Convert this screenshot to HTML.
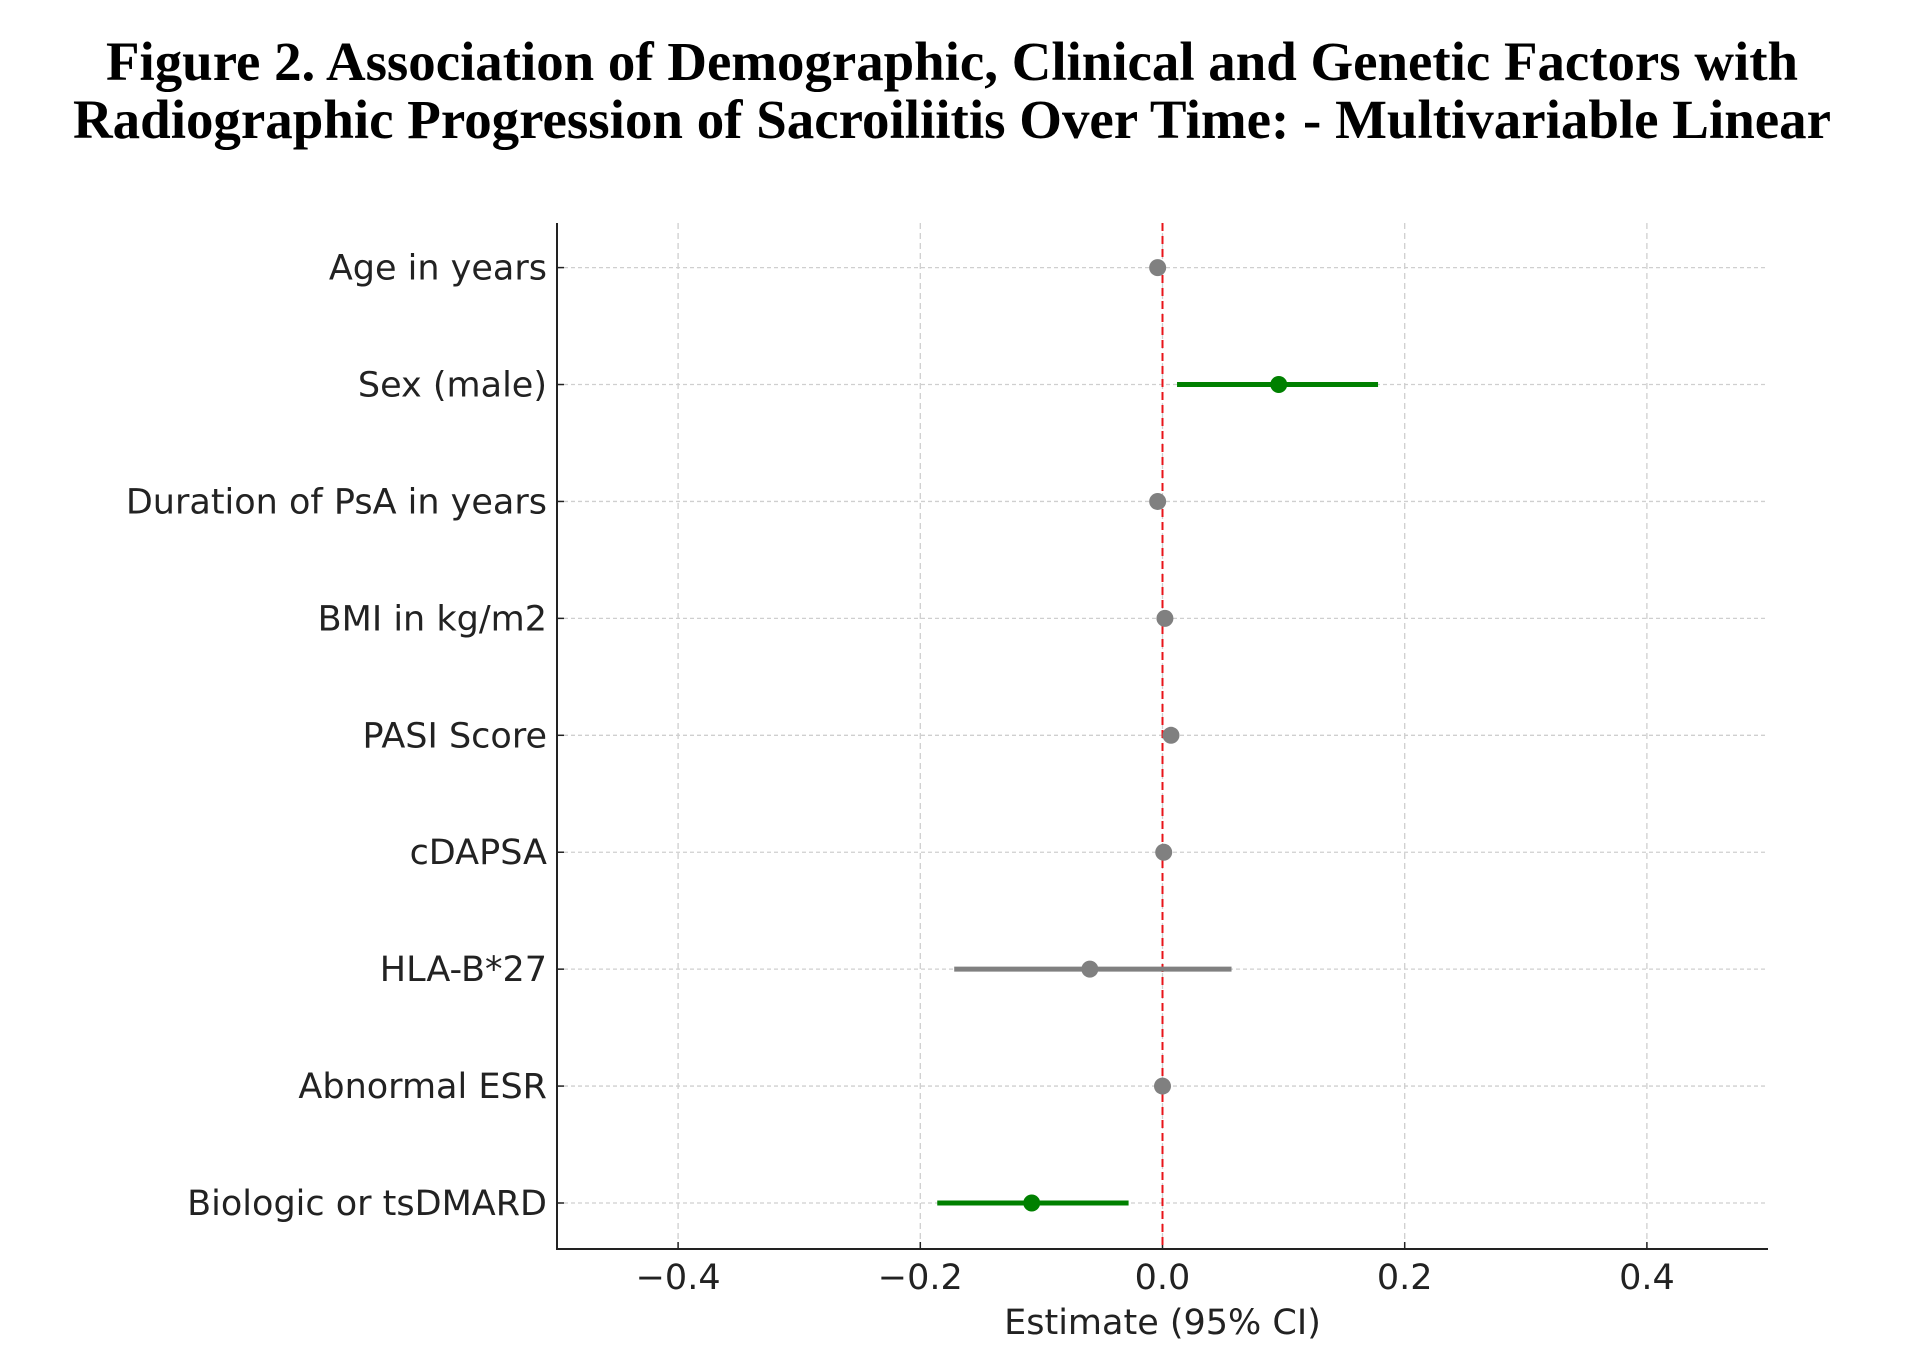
<!DOCTYPE html>
<html><head><meta charset="utf-8"><style>
html,body{margin:0;padding:0;background:#fff;}
svg{display:block;}
</style></head><body>
<svg id="chart" width="1906" height="1365" xmlns="http://www.w3.org/2000/svg">
<text x="952" y="80" text-anchor="middle" font-family="Liberation Serif, serif" font-weight="bold" font-size="55" textLength="1692" lengthAdjust="spacingAndGlyphs">Figure 2. Association of Demographic, Clinical and Genetic Factors with</text>
<text x="952" y="138" text-anchor="middle" font-family="Liberation Serif, serif" font-weight="bold" font-size="55" textLength="1758" lengthAdjust="spacingAndGlyphs">Radiographic Progression of Sacroiliitis Over Time: - Multivariable Linear</text>
<g id="plot"></g>
</svg>
<script>
const categories = ["Age in years","Sex (male)","Duration of PsA in years","BMI in kg/m2","PASI Score","cDAPSA","HLA-B*27","Abnormal ESR","Biologic or tsDMARD"];
const estimates = [-0.004,0.096,-0.004,0.002,0.007,0.001,-0.06,0.0,-0.108];
const ciLow = [-0.006,0.012,-0.006,0.0,0.001,-0.001,-0.172,-0.002,-0.186];
const ciHigh = [-0.002,0.178,-0.002,0.004,0.013,0.003,0.057,0.002,-0.028];
const significant = [false,true,false,false,false,false,false,false,true];
const xTicks = [-0.4,-0.2,0.0,0.2,0.4];
const xTickLabels = ["\u22120.4","\u22120.2","0.0","0.2","0.4"];

const NS="http://www.w3.org/2000/svg";
const g=document.getElementById('plot');
const L=557,R=1768,T=223,B=1249;
const xMin=-0.5,xMax=0.5;
const xs=v=>L+(v-xMin)/(xMax-xMin)*(R-L);
const yTop=267.6,yBot=1203;
const ys=i=>yTop+i*(yBot-yTop)/(categories.length-1);
function el(tag,attrs,parent){const e=document.createElementNS(NS,tag);for(const k in attrs)e.setAttribute(k,attrs[k]);(parent||g).appendChild(e);return e;}
const font="DejaVu Sans, Liberation Sans, sans-serif";
xTicks.forEach((t,i)=>{
  const gl=el('line',{x1:xs(t),x2:xs(t),y1:T,y2:B,stroke:'#cfcfcf','stroke-width':1.3,'stroke-dasharray':'6,4'});
  
  
  const tk=el('line',{x1:xs(t),x2:xs(t),y1:B,y2:B-7,stroke:'#222','stroke-width':1.5});
  
  
  const tl=el('text',{x:xs(t),y:B+40,'text-anchor':'middle','font-family':font,'font-size':35,fill:'#222'});
  tl.textContent=xTickLabels[i];
  
  
});
categories.forEach((c,i)=>{
  const y=ys(i);
  const gl=el('line',{x1:L,x2:R,y1:y,y2:y,stroke:'#cfcfcf','stroke-width':1.3,'stroke-dasharray':'4,3'});
  
  
  const tk=el('line',{x1:L,x2:L+7,y1:y,y2:y,stroke:'#222','stroke-width':1.5});
  
  
  const tl=el('text',{x:L-10,y:y+12,'text-anchor':'end','font-family':font,'font-size':35,fill:'#222'});
  tl.textContent=c;
  
  
});
const z=el('line',{x1:xs(0),x2:xs(0),y1:T,y2:B,stroke:'#e8141a','stroke-width':2,'stroke-dasharray':'8,5'});


categories.forEach((c,i)=>{
  const y=ys(i);const col=significant[i]?'#008000':'#808080';
  const ci=el('line',{x1:xs(ciLow[i]),x2:xs(ciHigh[i]),y1:y,y2:y,stroke:col,'stroke-width':5});
  
  
  const p=el('circle',{cx:xs(estimates[i]),cy:y,r:8.5,fill:col});
  
  
});
const ax=el('path',{d:`M${L},${T} L${L},${B} L${R},${B}`,fill:'none',stroke:'#222','stroke-width':2});


const xl=el('text',{x:xs(0),y:1334,'text-anchor':'middle','font-family':font,'font-size':35,fill:'#222'});
xl.textContent='Estimate (95% CI)';


</script>
</body></html>
